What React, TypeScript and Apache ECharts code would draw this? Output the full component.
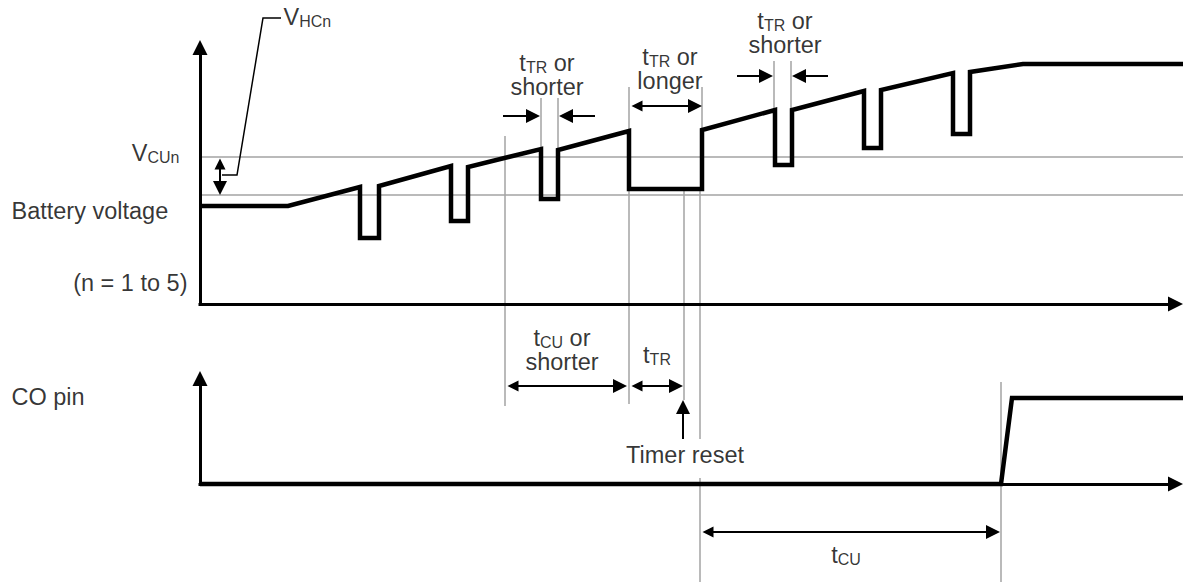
import React, { useEffect, useRef } from 'react';
import * as echarts from 'echarts';

const W = 1183;
const H = 582;
const FONT = '"Liberation Sans", Arial, Helvetica, sans-serif';

// Battery voltage waveform (diagram units)
const batteryX = [200, 288, 360, 360, 379, 379, 451, 451, 468, 468, 541, 541, 558, 558, 629, 629, 702, 702, 775, 775, 792, 792, 864, 864, 881, 881, 953, 953, 970, 970, 1023, 1183];
const batteryY = [206, 206, 187, 238, 238, 186, 166, 221, 221, 167, 149, 199, 199, 150, 131, 189, 189, 130, 110, 165, 165, 110, 91, 148, 148, 90, 73, 134, 134, 72, 64, 64];

// CO pin waveform
const coX = [200, 1001, 1012, 1183];
const coY = [484, 484, 398, 398];

// Axes: [fromX, fromY, tipX, tipY]
const axisLines = [
  [200, 305.5, 200, 40],
  [198.5, 304, 1183, 304],
  [200, 485.5, 200, 371],
  [198.5, 484, 1183, 484],
];

// Threshold & timing guide lines: [x1, y1, x2, y2]
const guideLines = [
  [200, 157, 1183, 157],
  [200, 195, 1183, 195],
  [505, 136, 505, 406],
  [541, 98, 541, 149],
  [558, 98, 558, 150],
  [629, 87, 629, 404],
  [702, 87, 702, 130],
  [684, 189, 684, 400],
  [700, 189, 700, 439],
  [700, 478, 700, 582],
  [774, 61, 774, 110],
  [791, 61, 791, 110],
  [1001, 382, 1001, 582],
];

// Single-headed arrows: [fromX, fromY, tipX, tipY]
const singleArrows = [
  [503, 116, 540, 116],
  [595, 116, 559, 116],
  [737, 76, 773, 76],
  [828, 76, 792, 76],
  [683, 439, 683, 400],
];

// Double-headed arrows: [tip1X, tip1Y, tip2X, tip2Y]
const doubleArrows = [
  [220, 157, 220, 195],
  [630, 106, 702, 106],
  [506, 386, 627, 386],
  [630, 386, 683, 386],
  [701, 532, 1000, 532],
];

// V_HCn leader line
const leaderX = [281, 263, 237, 222];
const leaderY = [18, 18, 175, 175];

// Labels
const labelText = [
  'V_{HCn}',
  'V_{CUn}',
  'Battery voltage',
  '(n = 1 to 5)',
  'CO pin',
  't_{TR} or\nshorter',
  't_{TR} or\nlonger',
  't_{TR} or\nshorter',
  't_{CU} or\nshorter',
  't_{TR}',
  'Timer reset',
  't_{CU}',
];
const labelX = [283, 180, 11, 188, 11, 547, 670, 785, 562, 657, 685, 846];
const labelY = [17, 153, 211, 283, 397, 75, 69, 33, 350, 355, 455, 555];
const labelAnchor = ['left', 'right', 'left', 'right', 'left', 'center', 'center', 'center', 'center', 'center', 'center', 'center'];

const toRich = (s: string) =>
  s
    .split('\n')
    .map((line) => '{m|' + line.replace(/_\{([^}]*)\}/g, '}{s|$1}{m|') + '}')
    .join('\n');

const shorten = (fx: number, fy: number, tx: number, ty: number, d: number) => {
  const dx = tx - fx;
  const dy = ty - fy;
  const len = Math.sqrt(dx * dx + dy * dy) || 1;
  return [tx - (dx / len) * d, ty - (dy / len) * d];
};

const ARROW = [11, 14];
const AXIS_ARROW = [10, 15];

export default function App() {
  const ref = useRef<HTMLDivElement>(null);

  useEffect(() => {
    document.body.style.margin = '0';
    if (!ref.current) return;
    const chart = echarts.init(ref.current, null, { renderer: 'svg' });

    const rich = {
      m: { fontSize: 23.5, fontFamily: FONT, color: '#000', lineHeight: 24 },
      s: { fontSize: 16, fontFamily: FONT, color: '#000', lineHeight: 12, verticalAlign: 'bottom' },
    };

    const posMap: Record<string, string> = { left: 'right', right: 'left', center: 'inside' };

    const option: any = {
      animation: false,
      grid: { left: 0, right: 0, top: 0, bottom: 0, containLabel: false },
      xAxis: { type: 'value', min: 0, max: W, show: false },
      yAxis: { type: 'value', min: 0, max: H, inverse: true, show: false },
      series: [
        {
          name: 'guides',
          type: 'lines',
          coordinateSystem: 'cartesian2d',
          silent: true,
          z: 1,
          symbol: ['none', 'none'],
          lineStyle: { color: '#a3a3a3', width: 1.5, opacity: 1, curveness: 0 },
          data: guideLines.map((g) => ({ coords: [[g[0], g[1]], [g[2], g[3]]] })),
        },
        {
          name: 'axes',
          type: 'lines',
          coordinateSystem: 'cartesian2d',
          silent: true,
          z: 3,
          symbol: ['none', 'triangle'],
          symbolSize: AXIS_ARROW,
          itemStyle: { color: '#000' },
          lineStyle: { color: '#000', width: 3, opacity: 1, curveness: 0 },
          data: axisLines.map((a) => ({
            coords: [[a[0], a[1]], shorten(a[0], a[1], a[2], a[3], AXIS_ARROW[1] / 2)],
          })),
        },
        {
          name: 'Battery voltage',
          type: 'line',
          z: 4,
          silent: true,
          showSymbol: false,
          symbol: 'none',
          lineStyle: { color: '#000', width: 4.5, join: 'miter', cap: 'butt' },
          data: batteryX.map((x, i) => [x, batteryY[i]]),
        },
        {
          name: 'CO pin',
          type: 'line',
          z: 4,
          silent: true,
          showSymbol: false,
          symbol: 'none',
          lineStyle: { color: '#000', width: 4.5, join: 'miter', cap: 'butt' },
          data: coX.map((x, i) => [x, coY[i]]),
        },
        {
          name: 'leader',
          type: 'line',
          z: 4,
          silent: true,
          showSymbol: false,
          symbol: 'none',
          lineStyle: { color: '#000', width: 1.5, join: 'miter' },
          data: leaderX.map((x, i) => [x, leaderY[i]]),
        },
        {
          name: 'single arrows',
          type: 'lines',
          coordinateSystem: 'cartesian2d',
          silent: true,
          z: 5,
          symbol: ['none', 'triangle'],
          symbolSize: ARROW,
          itemStyle: { color: '#000' },
          lineStyle: { color: '#000', width: 2, opacity: 1, curveness: 0 },
          data: singleArrows.map((a) => ({
            coords: [[a[0], a[1]], shorten(a[0], a[1], a[2], a[3], ARROW[1] / 2)],
          })),
        },
        {
          name: 'double arrows',
          type: 'lines',
          coordinateSystem: 'cartesian2d',
          silent: true,
          z: 5,
          symbol: ['triangle', 'triangle'],
          symbolSize: ARROW,
          itemStyle: { color: '#000' },
          lineStyle: { color: '#000', width: 2, opacity: 1, curveness: 0 },
          data: doubleArrows.map((a) => ({
            coords: [
              shorten(a[2], a[3], a[0], a[1], ARROW[1] / 2),
              shorten(a[0], a[1], a[2], a[3], ARROW[1] / 2),
            ],
          })),
        },
        {
          name: 'labels',
          type: 'scatter',
          z: 6,
          silent: true,
          symbolSize: 1,
          itemStyle: { color: 'rgba(0,0,0,0)' },
          data: labelText.map((t, i) => ({
            value: [labelX[i], labelY[i]],
            label: {
              show: true,
              position: posMap[labelAnchor[i]],
              distance: 0,
              align: labelAnchor[i],
              verticalAlign: 'middle',
              formatter: toRich(t),
              rich,
            },
          })),
        },
      ],
    };

    chart.setOption(option);
    return () => chart.dispose();
  }, []);

  return <div ref={ref} style={{ width: W, height: H, overflow: 'hidden' }} />;
}
